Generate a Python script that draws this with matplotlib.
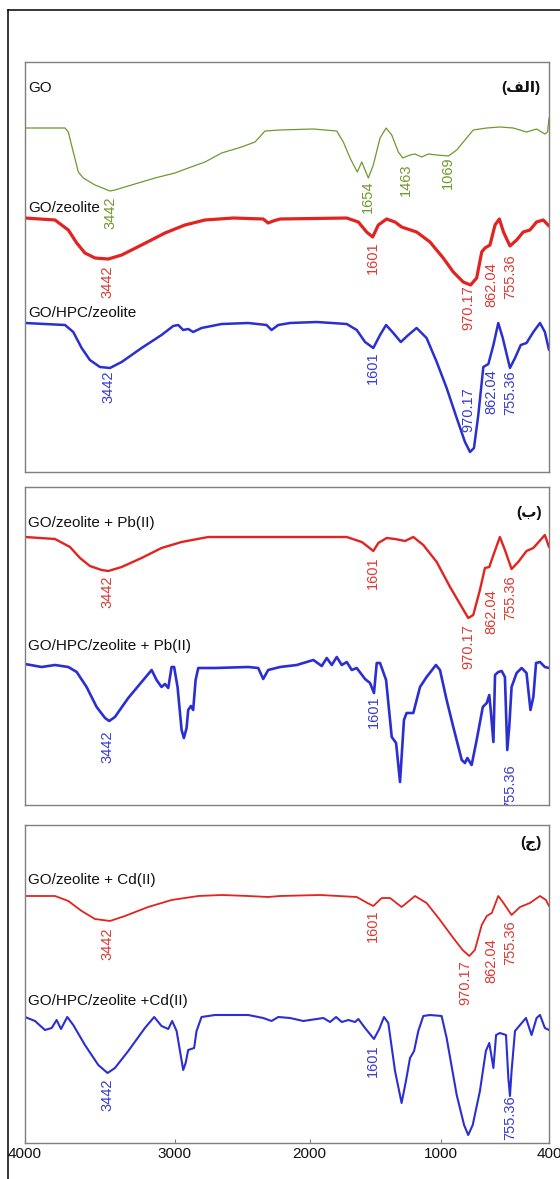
import numpy as np
import matplotlib
matplotlib.use("Agg")
import matplotlib.pyplot as plt
from matplotlib.lines import Line2D

plt.rcParams['font.family'] = ['Liberation Sans', 'DejaVu Sans']

# ---- spectra (wavenumber cm-1, transmittance a.u.) ----
# panel (الف)
go_wn = [4000, 3733, 3711, 3678, 3644, 3611, 3533, 3433, 3400, 3289,
         3133, 3000, 2900, 2776, 2653, 2505, 2405, 2344, 2331, 2219,
         1973, 1793, 1743, 1692, 1637, 1603, 1553, 1515, 1464, 1418,
         1375, 1325, 1291, 1236, 1198, 1147, 1097, 1033, 959, 913,
         858, 821, 747, 673, 599, 525, 469, 423, 408, 400]
go_t = [344, 344, 340, 320, 300, 294, 287, 281, 282, 287,
        294, 299, 304, 310, 319, 325, 330, 339, 341, 342,
        343, 341, 330, 314, 300, 310, 294, 307, 334, 344,
        337, 320, 314, 317, 318, 315, 318, 317, 316, 322,
        334, 342, 344, 345, 344, 340, 343, 338, 340, 354]

gz_wn = [4000, 3800, 3711, 3655, 3600, 3533, 3444, 3355, 3222, 3066,
         2925, 2776, 2566, 2344, 2307, 2270, 2219, 1717, 1629, 1566,
         1520, 1477, 1414, 1350, 1300, 1186, 1084, 988, 932, 877,
         836, 802, 774, 756, 728, 700, 676, 653, 617, 580,
         543, 506, 469, 432, 400]
gz_t = [254, 252, 242, 229, 219, 214, 213, 217, 227, 239,
        247, 252, 254, 253, 249, 251, 253, 254, 250, 240,
        235, 247, 253, 250, 245, 240, 230, 214, 200, 190,
        187, 194, 220, 224, 227, 247, 253, 240, 226, 232,
        240, 242, 250, 252, 246]

ghz_wn = [4000, 3733, 3678, 3622, 3567, 3500, 3433, 3355, 3222, 3089,
          3011, 2975, 2938, 2901, 2864, 2802, 2653, 2455, 2319, 2282,
          2232, 2145, 1945, 1717, 1641, 1578, 1515, 1464, 1418, 1363,
          1306, 1249, 1186, 1110, 1033, 969, 913, 867, 839, 817,
          793, 765, 737, 709, 682, 657, 617, 589, 557, 525,
          487, 450, 423, 400]
ghz_t = [149, 147, 140, 124, 112, 105, 104, 110, 124, 137,
         146, 147, 142, 143, 140, 144, 148, 149, 147, 142,
         147, 149, 150, 148, 142, 130, 124, 137, 147, 139,
         130, 137, 144, 134, 110, 84, 54, 30, 20, 24,
         57, 105, 108, 127, 149, 134, 104, 114, 127, 129,
         140, 149, 140, 122]

# panel (ب)
gz_pb_wn = [4000, 3800, 3700, 3633, 3567, 3489, 3444, 3355, 3222, 3089,
            2950, 2752, 2455, 2219, 1717, 1603, 1553, 1515, 1477, 1414,
            1350, 1274, 1211, 1135, 1033, 950, 885, 849, 821, 784,
            756, 732, 709, 673, 645, 608, 571, 525, 487, 423, 400]
gz_pb_t = [268, 266, 258, 247, 239, 235, 234, 238, 247, 257,
           263, 268, 268, 268, 268, 263, 258, 254, 262, 267,
           266, 264, 268, 260, 243, 218, 198, 187, 190, 215,
           237, 238, 250, 268, 255, 236, 243, 254, 257, 270, 258]

ghz_pb_wn = [4000, 3889, 3800, 3711, 3655, 3589, 3522, 3466, 3438, 3400,
             3311, 3222, 3155, 3122, 3089, 3066, 3044, 3022, 3005, 2980,
             2950, 2933, 2913, 2901, 2881, 2864, 2846, 2826, 2702, 2455,
             2381, 2344, 2307, 2219, 2095, 1971, 1907, 1869, 1831, 1793,
             1755, 1717, 1679, 1641, 1578, 1540, 1510, 1489, 1464, 1418,
             1375, 1342, 1312, 1282, 1262, 1211, 1160, 1110, 1039, 1008,
             969, 932, 885, 867, 854, 830, 802, 768, 746, 732,
             724, 709, 700, 682, 663, 645, 632, 621, 608, 580,
             552, 525, 503, 487, 472, 450, 423, 400]
ghz_pb_t = [141, 138, 140, 138, 133, 118, 98, 87, 84, 88,
            107, 123, 135, 125, 118, 121, 117, 138, 138, 118,
            75, 67, 77, 95, 99, 95, 125, 137, 137, 138,
            137, 126, 135, 138, 140, 145, 139, 147, 140, 148,
            140, 143, 135, 137, 126, 122, 112, 142, 142, 125,
            68, 62, 23, 85, 92, 92, 118, 128, 140, 135,
            105, 78, 45, 42, 47, 40, 65, 98, 102, 110,
            95, 63, 130, 133, 134, 128, 55, 78, 118, 132,
            137, 132, 95, 108, 142, 143, 138, 137]

# panel (ج)
gz_cd_wn = [4000, 3800, 3711, 3622, 3533, 3433, 3333, 3178, 3022, 2826,
            2653, 2455, 2307, 2219, 1920, 1641, 1560, 1515, 1451, 1388,
            1300, 1198, 1110, 1008, 932, 880, 843, 812, 774, 746,
            718, 682, 653, 608, 561, 506, 450, 417, 400]
gz_cd_t = [247, 247, 242, 232, 224, 222, 227, 236, 243, 247,
           248, 247, 246, 247, 248, 246, 240, 237, 245, 245,
           236, 247, 240, 223, 205, 193, 187, 193, 218, 227,
           230, 247, 240, 228, 236, 240, 247, 243, 237]

ghz_cd_wn = [4000, 3933, 3867, 3822, 3789, 3760, 3718, 3678, 3600, 3511,
             3449, 3400, 3311, 3200, 3138, 3089, 3044, 3018, 2987, 2962,
             2938, 2920, 2901, 2857, 2839, 2802, 2702, 2455, 2344, 2282,
             2232, 2145, 2046, 1895, 1844, 1798, 1755, 1705, 1654, 1629,
             1578, 1510, 1470, 1434, 1401, 1350, 1300, 1267, 1236, 1205,
             1173, 1135, 1084, 997, 969, 913, 872, 849, 824, 784,
             751, 732, 718, 709, 694, 673, 639, 626, 617, 608,
             589, 561, 528, 497, 469, 450, 423, 400]
ghz_cd_t = [126, 122, 113, 115, 123, 114, 126, 118, 98, 78,
            70, 75, 92, 115, 126, 117, 114, 122, 112, 92,
            73, 80, 93, 95, 112, 126, 128, 128, 125, 122,
            126, 125, 122, 125, 121, 126, 121, 123, 121, 124,
            115, 104, 114, 126, 120, 72, 40, 62, 85, 92,
            112, 127, 128, 127, 105, 48, 18, 8, 18, 52,
            92, 100, 85, 75, 108, 110, 108, 65, 47, 72,
            112, 118, 125, 108, 125, 128, 115, 113]

# peak labels (text, wavenumber position, height)
go_peaks = [("3442", 3433, 259), ("1654", 1553, 275), ("1463", 1271, 292), ("1069", 960, 299)]
gz_peaks = [("3442", 3449, 190), ("1601", 1515, 214), ("970.17", 849, 164),
            ("862.04", 719, 187), ("755.36", 617, 195)]
ghz_peaks = [("3442", 3444, 85), ("1601", 1515, 104), ("970.17", 849, 62),
             ("862.04", 719, 80), ("755.36", 617, 79)]
gz_pb_peaks = [("3442", 3449, 213), ("1601", 1515, 232), ("970.17", 849, 158),
               ("862.04", 719, 193), ("755.36", 617, 207)]
ghz_pb_peaks = [("3442", 3449, 58), ("1601", 1510, 93), ("755.36", 617, 18)]
gz_cd_peaks = [("3442", 3449, 199), ("1601", 1515, 217), ("970.17", 867, 160),
               ("862.04", 719, 182), ("755.36", 617, 200)]
ghz_cd_peaks = [("3442", 3449, 48), ("1601", 1515, 82), ("755.36", 617, 25)]

# the printed wavenumber axis is not linear: tick positions as drawn
tick_wn = [400, 1000, 2000, 3000, 4000]
tick_pos = [0.0, 0.206, 0.457, 0.714, 1.0]


def fwd(v):
    return np.interp(v, tick_wn, tick_pos)


def inv(u):
    return np.interp(u, tick_pos, tick_wn)


GREEN = '#6f9a2c'
RED = '#e2231f'
BLUE = '#2b2fd2'
RED_TXT = '#dc3a33'
BLUE_TXT = '#3a3ccc'

fig = plt.figure(figsize=(5.6, 11.79), dpi=100)

# outer frame (top and left only, rest is cut off)
fig.add_artist(Line2D([8 / 560, 8 / 560], [0, 1 - 10 / 1179], transform=fig.transFigure,
                      color='black', lw=1.1))
fig.add_artist(Line2D([8 / 560, 1], [1 - 10 / 1179, 1 - 10 / 1179], transform=fig.transFigure,
                      color='black', lw=1.1))

left, width = 25 / 560, 524 / 560
ax1 = fig.add_axes([left, (1179 - 472) / 1179, width, 410 / 1179])
ax2 = fig.add_axes([left, (1179 - 805) / 1179, width, 318 / 1179])
ax3 = fig.add_axes([left, (1179 - 1143) / 1179, width, 318 / 1179])
for ax, top in [(ax1, 410), (ax2, 318), (ax3, 318)]:
    ax.set_xscale('function', functions=(fwd, inv))
    ax.set_xlim(4000, 400)
    ax.set_ylim(0, top)
    ax.set_yticks([])
    for s in ax.spines.values():
        s.set_color('#7f7f7f')
        s.set_linewidth(1.0)

ax1.set_xticks([])
ax2.set_xticks([])
ax3.set_xticks(tick_wn[::-1])
ax3.set_xticklabels(['4000', '3000', '2000', '1000', '400'])
ax3.tick_params(axis='x', direction='in', length=3, pad=3, labelsize=11,
                colors='#7f7f7f', labelcolor='#111111')

kw = dict(solid_joinstyle='round', solid_capstyle='round')
ax1.plot(go_wn, go_t, color=GREEN, lw=0.9, **kw)
ax1.plot(gz_wn, gz_t, color=RED, lw=2.3, **kw)
ax1.plot(ghz_wn, ghz_t, color=BLUE, lw=1.8, **kw)
ax2.plot(gz_pb_wn, gz_pb_t, color=RED, lw=1.7, **kw)
ax2.plot(ghz_pb_wn, ghz_pb_t, color=BLUE, lw=1.9, **kw)
ax3.plot(gz_cd_wn, gz_cd_t, color=RED, lw=1.3, **kw)
ax3.plot(ghz_cd_wn, ghz_cd_t, color=BLUE, lw=1.5, **kw)


def peak_labels(ax, peaks, color):
    for txt, x, y in peaks:
        ax.text(x, y, txt, rotation=90, ha='center', va='center', fontsize=10.5,
                color=color, clip_on=True)


peak_labels(ax1, go_peaks, GREEN)
peak_labels(ax1, gz_peaks, RED_TXT)
peak_labels(ax1, ghz_peaks, BLUE_TXT)
peak_labels(ax2, gz_pb_peaks, RED_TXT)
peak_labels(ax2, ghz_pb_peaks, BLUE_TXT)
peak_labels(ax3, gz_cd_peaks, RED_TXT)
peak_labels(ax3, ghz_cd_peaks, BLUE_TXT)

# sample names
name_kw = dict(ha='left', va='center', fontsize=11, color='#111111')
ax1.text(3980, 384, "GO", **name_kw)
ax1.text(3980, 264, "GO/zeolite", **name_kw)
ax1.text(3980, 159, "GO/HPC/zeolite", **name_kw)
ax2.text(3980, 282, "GO/zeolite + Pb(II)", **name_kw)
ax2.text(3980, 159, "GO/HPC/zeolite + Pb(II)", **name_kw)
ax3.text(3980, 263, "GO/zeolite + Cd(II)", **name_kw)
ax3.text(3980, 142, "GO/HPC/zeolite +Cd(II)", **name_kw)

# panel letters (Arabic, written in shaped presentation forms)
tag_kw = dict(ha='right', va='center', fontsize=11, fontweight='bold', color='#111111',
              family=['Liberation Sans', 'DejaVu Sans'])
ax1.text(450, 384, "(\ufed2\ufedf\ufe8d)", **tag_kw)
ax2.text(440, 292, "(\ufe8f)", **tag_kw)
ax3.text(440, 300, "(\ufe9d)", **tag_kw)

fig.savefig("out.png", dpi=100)
